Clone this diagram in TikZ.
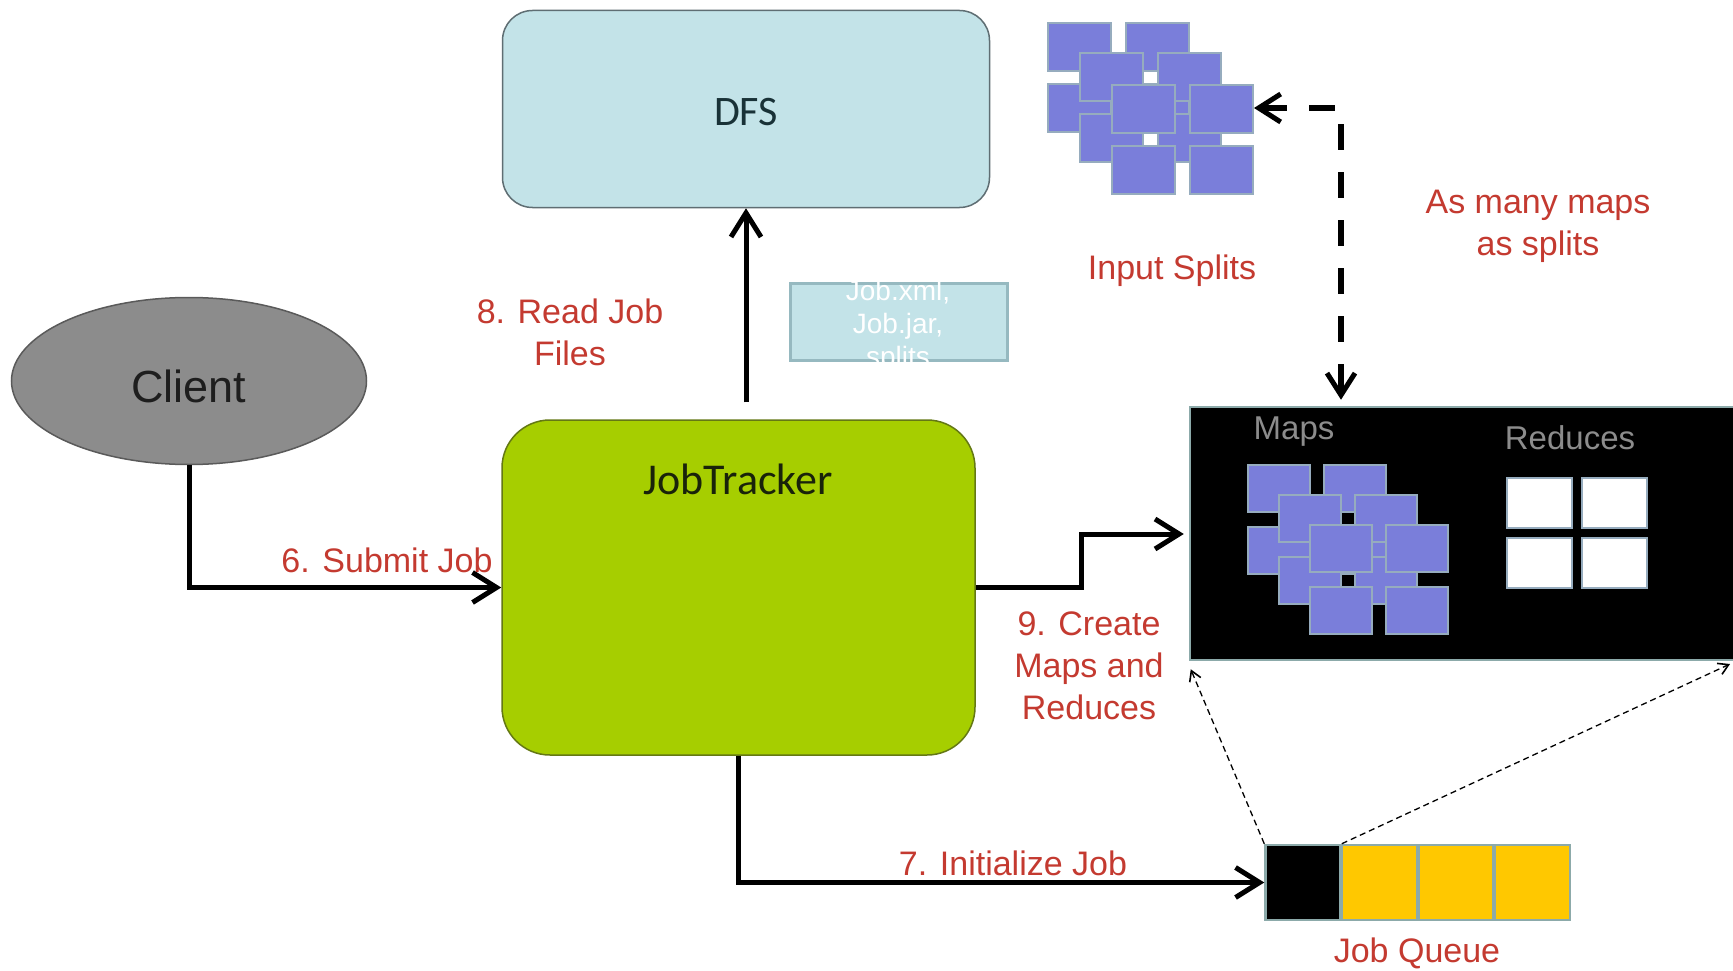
\documentclass[tikz,border=0pt]{standalone}
\usepackage{fontspec}
\setmainfont{Liberation Sans}
\newfontfamily\calib{Carlito}
\usetikzlibrary{arrows.meta,shapes.geometric}
\definecolor{redtxt}{RGB}{196,58,48}
\definecolor{dfsfill}{RGB}{195,227,232}
\definecolor{dfsline}{RGB}{95,110,115}
\definecolor{jtfill}{RGB}{166,206,0}
\definecolor{jtline}{RGB}{100,120,20}
\definecolor{clientfill}{RGB}{140,140,140}
\definecolor{blockfill}{RGB}{122,126,218}
\definecolor{blockline}{RGB}{150,172,190}
\definecolor{qyellow}{RGB}{255,200,0}
\definecolor{qline}{RGB}{140,170,170}
\definecolor{jobboxline}{RGB}{150,185,192}
\definecolor{graytxt}{RGB}{140,140,140}
\begin{document}
\begin{tikzpicture}[x=1pt,y=-1pt,
  arr/.style={line width=5pt,-{Straight Barb[length=24pt,width=30pt,line width=5pt]}},
  dasharr/.style={line width=6pt,dash pattern=on 26pt off 22pt,{Straight Barb[length=22pt,width=28pt,line width=5pt]}-{Straight Barb[length=22pt,width=28pt,line width=5pt]}},
  thinarr/.style={line width=1.3pt,dash pattern=on 6pt off 4pt,-{Straight Barb[length=10pt,width=12pt,line width=1.6pt]}},
  redlabel/.style={text=redtxt,font=\fontsize{34}{42}\selectfont,align=center,inner sep=0pt},
  qcell/.style={draw=qline,line width=2.5pt,minimum width=75pt,minimum height=75pt,inner sep=0pt},
  block/.style={fill=blockfill,draw=blockline,line width=2pt},
  rblock/.style={fill=white,draw=blockline,line width=2.5pt}
]
\useasboundingbox (0,0) rectangle (1733,971);
\fill[white] (0,0) rectangle (1733,971);

% DFS
\node[draw=dfsline,fill=dfsfill,line width=1.5pt,rounded corners=30pt,minimum width=487pt,minimum height=197pt] (dfs) at (746,109) {};
\node[font=\calib\fontsize{42}{50}\selectfont,text={rgb,255:red,25;green,50;blue,55}] (dfstext) at (746,112) {DFS};

% Client
\node[ellipse,draw={rgb,255:red,90;green,90;blue,90},fill=clientfill,line width=1.5pt,minimum width=355pt,minimum height=167pt,inner sep=0pt] (client) at (189,381) {};
\node[font=\fontsize{45}{54}\selectfont,text={rgb,255:red,30;green,30;blue,30}] (clienttext) at (189,386) {Client};

% JobTracker
\node[draw=jtline,fill=jtfill,line width=1.5pt,rounded corners=48pt,minimum width=473pt,minimum height=335pt] (jt) at (738.5,587.5) {};
\node[font=\calib\fontsize{44}{52}\selectfont,text={rgb,255:red,25;green,35;blue,10}] (jttext) at (738,479) {JobTracker};

% Job.xml box
\node[draw=jobboxline,fill=dfsfill,line width=3pt,minimum width=217pt,minimum height=77pt,inner sep=0pt] (jobbox) at (898.5,321.5) {};
\node[text=white,font=\fontsize{28}{33}\selectfont,align=center,inner sep=0pt] (jobtext) at (898,326) {Job.xml,\\Job.jar,\\splits};

% Input splits blocks
\foreach \ox/\oy in {1048/23,1080/53,1112/85}{
  \foreach \i in {0,1}{
    \foreach \j in {0,1}{
      \draw[block] (\ox+\i*78,\oy+\j*61) rectangle ++(63,48);
    }
  }
}
\coordinate (splitsE) at (1254,108);
\coordinate (dashcorner) at (1341,108);

% Maps/Reduces box
\node[fill=black,draw=qline,line width=2.5pt,minimum width=552pt,minimum height=253pt,inner sep=0pt] (maps) at (1466,533.5) {};
\node[text=graytxt,font=\fontsize{33}{40}\selectfont,inner sep=0pt] (mapstext) at (1294,432) {Maps};
\node[text=graytxt,font=\fontsize{33}{40}\selectfont,inner sep=0pt] (redtext) at (1570,438) {Reduces};
\foreach \ox/\oy in {1248/465,1279/495,1310/525}{
  \foreach \i in {0,1}{
    \foreach \j in {0,1}{
      \draw[block] (\ox+\i*76,\oy+\j*62) rectangle ++(62,47);
    }
  }
}
\foreach \i in {0,1}{
  \foreach \j in {0,1}{
    \draw[rblock] (1507+\i*75,478+\j*60) rectangle ++(65,50);
  }
}

% Job queue
\node[qcell,fill=black] (q1) at (1303,882.5) {};
\node[qcell,fill=qyellow] (q2) at (1379.5,882.5) {};
\node[qcell,fill=qyellow] (q3) at (1456,882.5) {};
\node[qcell,fill=qyellow] (q4) at (1532.5,882.5) {};
\node[redlabel] (jqtext) at (1417,953) {Job Queue};

% Connectors
\draw[arr] (client.south) |- (jt.west);
\draw[arr] ([yshift=17pt]jt.north -| dfs.south) -- (dfs.south);
\coordinate (mapbend) at (1081,534);
\draw[arr] (jt.east) -| (mapbend) -- ([xshift=-5pt]mapbend -| maps.west);
\draw[arr] (jt.south) |- (q1.west);
\draw[dasharr] (splitsE) -- (dashcorner) -- ([yshift=6pt]dashcorner |- maps.north);
\coordinate (mapsSE) at (1730,664);
\draw[thinarr] (q1.north west) -- ([shift={(2pt,-8pt)}]maps.south west);
\draw[thinarr] (q1.north east) -- (mapsSE);

% Labels
\node[redlabel] (submit) at (387,560) {6. Submit Job};
\node[redlabel] (readjob) at (570,332) {8. Read Job\\Files};
\node[redlabel] (create) at (1089,666) {9. Create\\Maps and\\Reduces};
\node[redlabel] (init) at (1013,863) {7. Initialize Job};
\node[redlabel] (insplits) at (1172,271) {Input Splits};
\node[redlabel] (asmany) at (1538,226) {As many maps\\as splits};
\end{tikzpicture}
\end{document}
